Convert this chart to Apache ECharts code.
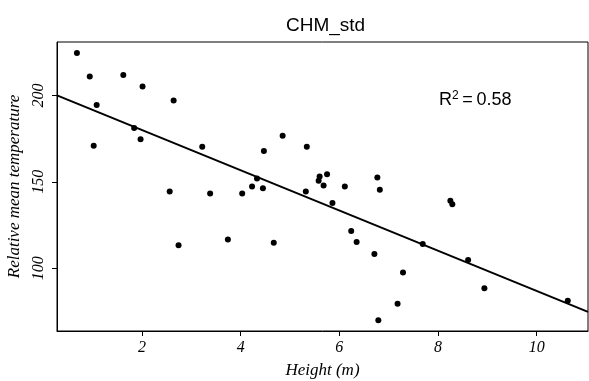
<!DOCTYPE html>
<html>
<head>
<meta charset="utf-8">
<script src="https://cdn.jsdelivr.net/npm/echarts@6/dist/echarts.min.js"></script>
<style>html,body{margin:0;padding:0;background:#fff}#c{width:589px;height:381px}</style>
</head>
<body>
<div id="c"></div>
<script>
var heights = [0.68,0.94,1.08,1.02,1.62,2.01,1.84,1.97,2.64,3.22,4.33,4.23,4.45,4.47,4.85,5.34,5.75,5.60,5.58,5.68,5.32,6.11,6.77,6.82,5.86,8.25,8.29,6.24,6.35,6.71,7.69,8.61,7.29,8.94,7.18,6.79,10.63,2.56,3.38,4.03,2.74,3.74,4.67];
var temps   = [224.6,211.0,194.4,170.9,211.8,205.2,181.1,174.7,197.1,170.3,151.9,147.3,146.3,167.8,176.7,170.3,154.4,153.1,150.6,147.9,144.4,147.3,152.5,145.4,137.7,139.0,137.1,121.6,115.2,108.3,114.1,104.8,97.5,88.4,79.5,69.9,81.2,144.4,143.2,143.2,113.3,116.6,114.7];
var xTicks = [2,4,6,8,10];
var yTicks = [100,150,200];
var fitIntercept = 203.2;
var fitSlope = -11.63;
var xMin = 0.276, xMax = 11.04, yMin = 63.7, yMax = 230.9;

var pts = heights.map(function(h,i){return [h,temps[i]];});
var fitLine = [[xMin, fitIntercept + fitSlope*xMin],[xMax, fitIntercept + fitSlope*xMax]];

var chart = echarts.init(document.getElementById('c'));
var serif = '"Liberation Serif","DejaVu Serif",serif';
var sans = '"Liberation Sans",Arial,sans-serif';
chart.setOption({
  animation:false,
  title:{text:'CHM_std',left:281,top:11,textStyle:{fontFamily:sans,fontSize:19,fontWeight:'normal',color:'#000'}},
  grid:{left:57,right:1,top:42,bottom:50,show:true,borderColor:'#000',borderWidth:1,backgroundColor:'transparent',outerBoundsMode:'none',containLabel:false},
  xAxis:{type:'value',min:xMin,max:xMax,
    name:'Height (m)',nameLocation:'middle',nameGap:31,
    nameTextStyle:{fontFamily:serif,fontStyle:'italic',fontSize:17,color:'#000'},
    axisLine:{show:true,onZero:false,lineStyle:{color:'#000',width:1}},
    axisTick:{show:true,length:5,customValues:xTicks,lineStyle:{color:'#000'}},
    axisLabel:{customValues:xTicks,margin:9,fontFamily:serif,fontStyle:'italic',fontSize:16,color:'#000'},
    splitLine:{show:false}},
  yAxis:{type:'value',min:yMin,max:yMax,
    name:'Relative mean temperature',nameLocation:'middle',nameGap:30,nameRotate:90,
    nameTextStyle:{fontFamily:serif,fontStyle:'italic',fontSize:17,color:'#000'},
    axisLine:{show:true,onZero:false,lineStyle:{color:'#000',width:1}},
    axisTick:{show:true,length:5,customValues:yTicks,lineStyle:{color:'#000'}},
    axisLabel:{customValues:yTicks,rotate:90,margin:10,fontFamily:serif,fontStyle:'italic',fontSize:16,color:'#000'},
    splitLine:{show:false}},
  graphic:[{type:'text',left:439,top:90,style:{
    text:'R{s|2}\u2009=\u20090.58',
    rich:{s:{fontSize:12,verticalAlign:'top',padding:[0,0,8,0],fontFamily:sans,fill:'#000'}},
    fontFamily:sans,fontSize:18,fill:'#000'}}],
  series:[
    {type:'scatter',data:pts,symbol:'circle',symbolSize:6,itemStyle:{color:'#000',opacity:1},z:3},
    {type:'line',data:fitLine,showSymbol:false,symbol:'none',lineStyle:{color:'#000',width:2},z:2}
  ]
});
</script>
</body>
</html>
